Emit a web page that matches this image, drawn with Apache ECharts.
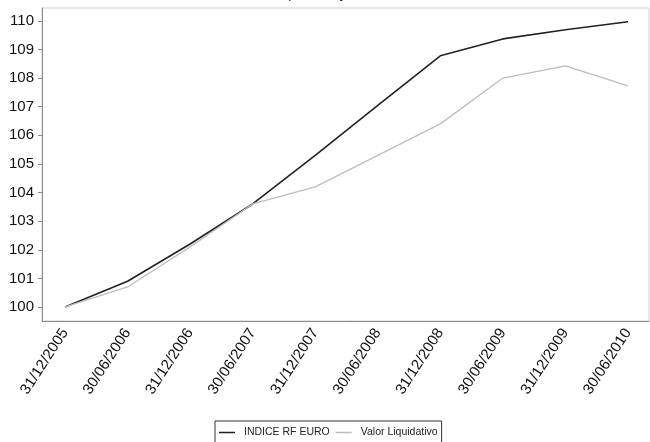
<!DOCTYPE html>
<html>
<head>
<meta charset="utf-8">
<script src="https://cdn.jsdelivr.net/npm/echarts@6/dist/echarts.min.js"></script>
<style>
html,body{margin:0;padding:0;background:#fff;}
#c{width:650px;height:442px;}
</style>
</head>
<body>
<div id="c"></div>
<script>
var categories = ["31/12/2005","30/06/2006","31/12/2006","30/06/2007","31/12/2007","30/06/2008","31/12/2008","30/06/2009","31/12/2009","30/06/2010"];
var indiceRF = [100.0, 100.9, 102.2, 103.6, 105.3, 107.05, 108.78, 109.37, 109.69, 109.97];
var valorLiq = [100.0, 100.7, 102.1, 103.6, 104.2, 105.3, 106.4, 108.0, 108.43, 107.73];
var yTicks = [100,101,102,103,104,105,106,107,108,109,110];
var xTicks = [0,1,2,3,4,5,6,7,8,9];
var titleText = "Evolución del Valor Liquidativo y del Índice de Referencia";

function pairs(arr){ return arr.map(function(v,i){ return [i, v]; }); }

var chart = echarts.init(document.getElementById('c'));
chart.setOption({
  animation: false,
  graphic: [{
    type: 'text', left: 'center', top: -12,
    style: { text: titleText, font: '13px "Liberation Sans", Arial', fill: '#111' }
  }],
  grid: { left: 42, top: 8, right: 1, bottom: 121, show: true, borderColor: '#cfcfcf', borderWidth: 1 },
  legend: {
    left: 215, top: 421,
    data: ['INDICE RF EURO', 'Valor Liquidativo'],
    icon: 'rect', itemWidth: 16, itemHeight: 1.5, itemGap: 6,
    borderColor: '#333', borderWidth: 1, padding: [6, 4, 14, 4],
    textStyle: { fontFamily: '"Liberation Sans Narrow", "Liberation Sans", Arial', fontSize: 10.5, color: '#222', padding: [0, 0, 0, 4] }
  },
  xAxis: {
    type: 'value', min: -0.368, max: 9.336,
    splitLine: { show: false },
    axisLine: { show: true, onZero: false, lineStyle: { color: '#8a8a8a', width: 1 } },
    axisTick: { show: false, customValues: xTicks },
    axisLabel: {
      customValues: xTicks, rotate: 57, margin: 9,
      fontFamily: '"Liberation Sans", Arial', fontSize: 15, color: '#111',
      formatter: function(v){ return categories[Math.round(v)] || ''; }
    }
  },
  yAxis: {
    type: 'value', min: 99.51, max: 110.45,
    splitLine: { show: false },
    axisLine: { show: true, onZero: false, lineStyle: { color: '#8a8a8a', width: 1 } },
    axisTick: { show: true, customValues: yTicks, length: 4, lineStyle: { color: '#8a8a8a' } },
    axisLabel: {
      customValues: yTicks, margin: 8,
      fontFamily: '"Liberation Sans", Arial', fontSize: 15, color: '#111'
    }
  },
  series: [
    { name: 'INDICE RF EURO', type: 'line', data: pairs(indiceRF), showSymbol: false,
      lineStyle: { color: '#222', width: 1.6 }, itemStyle: { color: '#222' } },
    { name: 'Valor Liquidativo', type: 'line', data: pairs(valorLiq), showSymbol: false,
      lineStyle: { color: '#bdbdbd', width: 1.3 }, itemStyle: { color: '#bdbdbd' } }
  ]
});
</script>
</body>
</html>
